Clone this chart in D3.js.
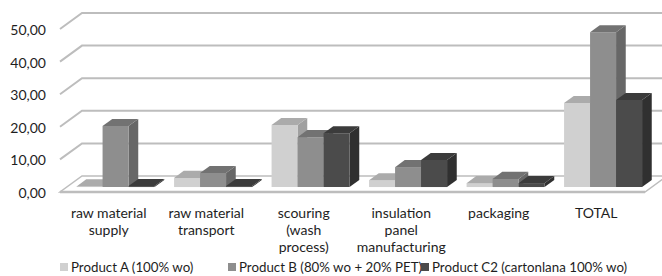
<!DOCTYPE html>
<html>
<head>
<meta charset="utf-8">
<script src="https://cdn.jsdelivr.net/npm/d3@7"></script>
<style>
  body { margin: 0; background: #fff; }
  svg text { font-family: Lato, "Open Sans", sans-serif; fill: #1e1e1e; }
</style>
</head>
<body>
<svg class="chart" width="662" height="276"></svg>
<script>
const categories = [
  ["raw material", "supply"],
  ["raw material", "transport"],
  ["scouring", "(wash", "process)"],
  ["insulation", "panel", "manufacturing"],
  ["packaging"],
  ["TOTAL"]
]
const seriesNames = ["Product A (100% wo)", "Product B (80% wo + 20% PET)", "Product C2 (cartonlana 100% wo)"]
const productA = [0.2, 2.8, 19.0, 2.1, 1.2, 25.8]
const productB = [18.7, 4.3, 15.3, 6.1, 2.5, 47.5]
const productC2 = [0.3, 0.3, 16.5, 8.3, 1.2, 26.7]
const yTicks = [0, 10, 20, 30, 40, 50]

const series = [productA, productB, productC2]
// front face, top face, side face
const shades = [
  ["#d0d0d0", "#ababab", "#a0a0a0"],
  ["#8e8e8e", "#727272", "#676767"],
  ["#4b4b4b", "#3b3b3b", "#303030"]
]

const svg = d3.select('svg.chart')

// depth of the floor, projected (front edge -> back wall)
const DX = 22, DY = -16
// bars sit between these depth fractions
const BAR_D0 = 0.31, BAR_D1 = 0.75

const xScale = d3.scaleBand()
  .domain(d3.range(categories.length))
  .range([60, 645])
  .paddingInner(0.2)
  .paddingOuter(0.1)

const xSub = d3.scaleBand()
  .domain(d3.range(series.length))
  .range([0, xScale.bandwidth()])

const yScale = d3.scaleLinear()
  .domain([0, 50])
  .range([192, 29])

const proj = (x, v, d) => [x + d * DX, yScale(v) + d * DY]

// floor
const floor = [proj(60, 0, 0), proj(645, 0, 0), proj(645, 0, 1), proj(60, 0, 1)]
svg.append('path')
  .attr('d', d3.line()(floor) + 'Z')
  .attr('fill', '#fff')
  .attr('stroke', '#bdbdbd')
  .attr('stroke-width', 1.5)
svg.append('line')
  .attr('x1', 60).attr('x2', 645)
  .attr('y1', yScale(0)).attr('y2', yScale(0))
  .attr('stroke', '#bdbdbd')
  .attr('stroke-width', 2.5)

// grid lines: side wall diagonal + back wall horizontal
const grid = svg.append('g').attr('class', 'grid')
grid.selectAll('path')
  .data(yTicks.filter(t => t > 0))
  .enter()
  .append('path')
  .attr('d', t => d3.line()([proj(60, t, 0), proj(60, t, 1), proj(680, t, 1)]))
  .attr('fill', 'none')
  .attr('stroke', '#bdbdbd')
  .attr('stroke-width', 2)

// y labels
svg.append('g')
  .selectAll('text')
  .data(yTicks)
  .enter()
  .append('text')
  .attr('x', 46)
  .attr('y', t => yScale(t) + 1)
  .attr('dy', '0.35em')
  .attr('text-anchor', 'end')
  .style('font-size', '14px')
  .text(t => d3.format('.2f')(t).replace('.', ','))

// bars, drawn left to right so the side faces get covered properly
const bars = svg.append('g').attr('class', 'bars')
categories.forEach((c, i) => {
  series.forEach((s, k) => {
    const v = s[i]
    const x0 = xScale(i) + xSub(k)
    const x1 = x0 + xSub.bandwidth()
    const g = bars.append('g')
    const front = [proj(x0, 0, BAR_D0), proj(x1, 0, BAR_D0), proj(x1, v, BAR_D0), proj(x0, v, BAR_D0)]
    const top = [proj(x0, v, BAR_D0), proj(x1, v, BAR_D0), proj(x1, v, BAR_D1), proj(x0, v, BAR_D1)]
    const side = [proj(x1, 0, BAR_D0), proj(x1, 0, BAR_D1), proj(x1, v, BAR_D1), proj(x1, v, BAR_D0)]
    g.append('path').attr('d', d3.line()(side) + 'Z').attr('fill', shades[k][2])
    g.append('path').attr('d', d3.line()(front) + 'Z').attr('fill', shades[k][0])
    g.append('path').attr('d', d3.line()(top) + 'Z').attr('fill', shades[k][1])
  })
})

// category labels
svg.append('g')
  .selectAll('text')
  .data(categories)
  .enter()
  .append('text')
  .attr('text-anchor', 'middle')
  .style('font-size', '14px')
  .attr('transform', (d, i) => `translate(${xScale(i) + xScale.bandwidth() / 2}, 218)`)
  .selectAll('tspan')
  .data(d => d)
  .enter()
  .append('tspan')
  .attr('x', 0)
  .attr('y', (d, j) => j * 17)
  .text(d => d)

// legend
const legendX = [60, 228, 421]
const legend = svg.append('g')
  .selectAll('g')
  .data(seriesNames)
  .enter()
  .append('g')
  .attr('transform', (d, i) => `translate(${legendX[i]}, 267)`)
legend.append('rect')
  .attr('x', 0).attr('y', -4)
  .attr('width', 8).attr('height', 8)
  .attr('fill', (d, i) => shades[i][0])
legend.append('text')
  .attr('x', 11)
  .attr('dy', '0.35em')
  .style('font-size', '13.3px')
  .text(d => d)
</script>
</body>
</html>
